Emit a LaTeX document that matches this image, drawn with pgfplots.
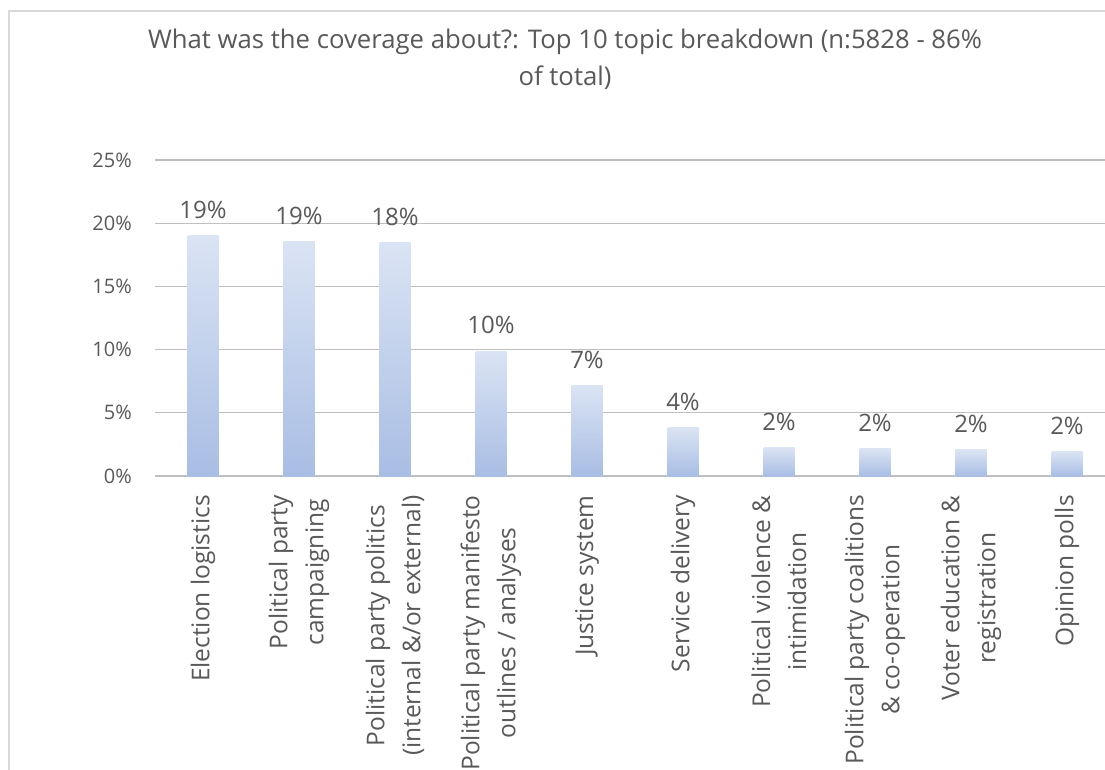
\documentclass[border=0pt]{standalone}
\usepackage{pgfplots}
\pgfplotsset{compat=1.18}
\usepackage{fontspec}
\setmainfont{Open Sans}
\definecolor{txt}{RGB}{89,89,89}
\definecolor{grid}{RGB}{217,217,217}
\definecolor{bartop}{RGB}{244,247,252}
\definecolor{barmid}{RGB}{198,212,237}
\definecolor{bardark}{RGB}{168,189,228}
\definecolor{barbot}{RGB}{192,207,236}
\pgfdeclareverticalshading{barshade}{100bp}{color(0bp)=(barbot); color(16bp)=(bardark); color(24bp)=(bardark); color(55bp)=(barmid); color(100bp)=(bartop)}
\pgfplotsset{mybar/.style={ybar, bar width=31pt, bar shift=0pt, draw=none, shading=barshade, mark=none,
    nodes near coords={\pgfmathprintnumber[fixed,precision=0,assume math mode=true]{\pgfplotspointmeta}\%},
    every node near coord/.append style={text=txt, inner sep=0pt, yshift=17pt, font=\fontsize{24}{28}\selectfont}}}
\begin{document}
\begin{tikzpicture}[x=1pt,y=1pt]
\useasboundingbox (0,0) rectangle (1105,769);
\clip (0,0) rectangle (1105,769);
\fill[white] (0,0) rectangle (1105,769);
\draw[grid, line width=1.3pt] (9,-20) -- (9,758) -- (1130,758);
\node[anchor=base, text=txt, font=\fontsize{25.7}{36}\selectfont, inner sep=0pt] at (565,720) {What was the coverage about?: Top 10 topic breakdown (n:5828 - 86\%};
\node[anchor=base, text=txt, font=\fontsize{25.7}{36}\selectfont, inner sep=0pt] at (565,683) {of total)};
\begin{axis}[
  at={(155pt,293pt)}, anchor=south west,
  scale only axis, width=960pt, height=316pt,
  xmin=-0.5, xmax=9.5, ymin=0, ymax=25,
  axis line style={draw=none},
  major tick length=0pt,
  xmajorgrids=false,
  ytick={0,5,10,15,20,25},
  yticklabels={0\%,5\%,10\%,15\%,20\%,25\%},
  ymajorgrids, grid style={grid, line width=1.3pt},
  yticklabel style={font=\fontsize{20}{24}\selectfont, text=txt, inner sep=0pt, xshift=-23pt},
  xtick={0,1,2,3,4,5,6,7,8,9},
  xticklabels={Election logistics, Political party\\campaigning, Political party politics\\(internal \&/or external), Political party manifesto\\outlines / analyses, Justice system, Service delivery, Political violence \&\\intimidation, Political party coalitions\\\& co-operation, Voter education \&\\registration, Opinion polls},
  xticklabel style={yshift=-19pt, rotate=90, anchor=east, align=center, inner sep=0pt, text=txt, font=\fontsize{24.5}{36}\selectfont},
  clip=false,
]
\addplot[mybar] coordinates {(0,19.03)};
\addplot[mybar] coordinates {(1,18.55)};
\addplot[mybar] coordinates {(2,18.45)};
\addplot[mybar] coordinates {(3,9.86)};
\addplot[mybar] coordinates {(4,7.14)};
\addplot[mybar] coordinates {(5,3.83)};
\addplot[mybar] coordinates {(6,2.25)};
\addplot[mybar] coordinates {(7,2.14)};
\addplot[mybar] coordinates {(8,2.06)};
\addplot[mybar] coordinates {(9,1.93)};
\end{axis}
\end{tikzpicture}
\end{document}
